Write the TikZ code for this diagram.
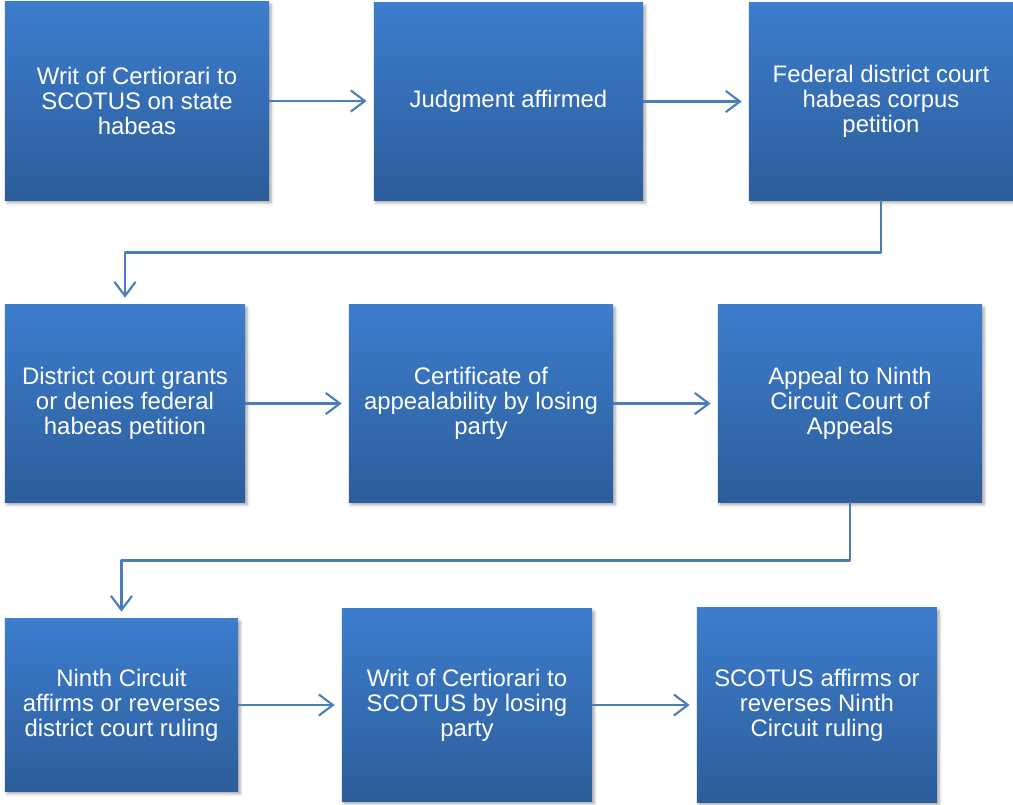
\documentclass[tikz,border=0pt]{standalone}
\usepackage{fontspec}
\setmainfont{Liberation Sans}
\usetikzlibrary{arrows.meta,calc,shadows.blur}
\definecolor{boxtop}{HTML}{3C7DCD}
\definecolor{boxbot}{HTML}{2D5D9A}
\definecolor{arrowblue}{HTML}{4A7EBB}
\tikzset{
  stage/.style={rectangle, top color=boxtop, bottom color=boxbot, text=white,
    align=center, inner sep=0pt, font=\fontsize{17}{17.8}\selectfont,
    blur shadow={shadow xshift=1.5pt, shadow yshift=-2pt, shadow blur steps=6, shadow opacity=35}},
  flow/.style={draw=arrowblue, line width=1.5pt,
    -{Straight Barb[length=10pt,width=15pt,line width=1.5pt]}, shorten >=5pt}
}

\begin{document}
\begin{tikzpicture}[x=0.025cm, y=-0.025cm, line join=round, line cap=round]
\useasboundingbox (0,0) rectangle (1013,804);

% first row
\node[stage, minimum width=6.6cm, minimum height=4.95cm] (A) at (137,101) {Writ of Certiorari to\\SCOTUS on state\\habeas};
\node[stage, minimum width=6.725cm, minimum height=4.925cm] (B) at (508.5,101.5) {Judgment affirmed};
\node[stage, minimum width=6.6cm, minimum height=4.925cm] (C) at (881,101.5) {Federal district court\\habeas corpus\\petition};

% second row
\node[stage, minimum width=6cm, minimum height=4.925cm] (D) at (125,403.5) {District court grants\\or denies federal\\habeas petition};
\node[stage, minimum width=6.6cm, minimum height=4.925cm] (E) at (481,403.5) {Certificate of\\appealability by losing\\party};
\node[stage, minimum width=6.6cm, minimum height=4.925cm] (F) at (850,403.5) {Appeal to Ninth\\Circuit Court of\\Appeals};

% third row
\node[stage, minimum width=5.825cm, minimum height=4.3cm] (G) at (121.5,705) {Ninth Circuit\\affirms or reverses\\district court ruling};
\node[stage, minimum width=6.25cm, minimum height=4.8cm] (H) at (467,705) {Writ of Certiorari to\\SCOTUS by losing\\party};
\node[stage, minimum width=6cm, minimum height=4.85cm] (I) at (817,705) {SCOTUS affirms or\\reverses Ninth\\Circuit ruling};

\foreach \s/\t in {A/B,B/C,D/E,E/F,G/H,H/I}
    \draw[flow] (\s.east) -- (\s.east -| \t.west);
\draw[flow] (C.south) |- ($(C.south)!.5!(D.north)$) -| (D.north);
\draw[flow] (F.south) |- ($(F.south)!.5!(G.north)$) -| (G.north);
\end{tikzpicture}
\end{document}
